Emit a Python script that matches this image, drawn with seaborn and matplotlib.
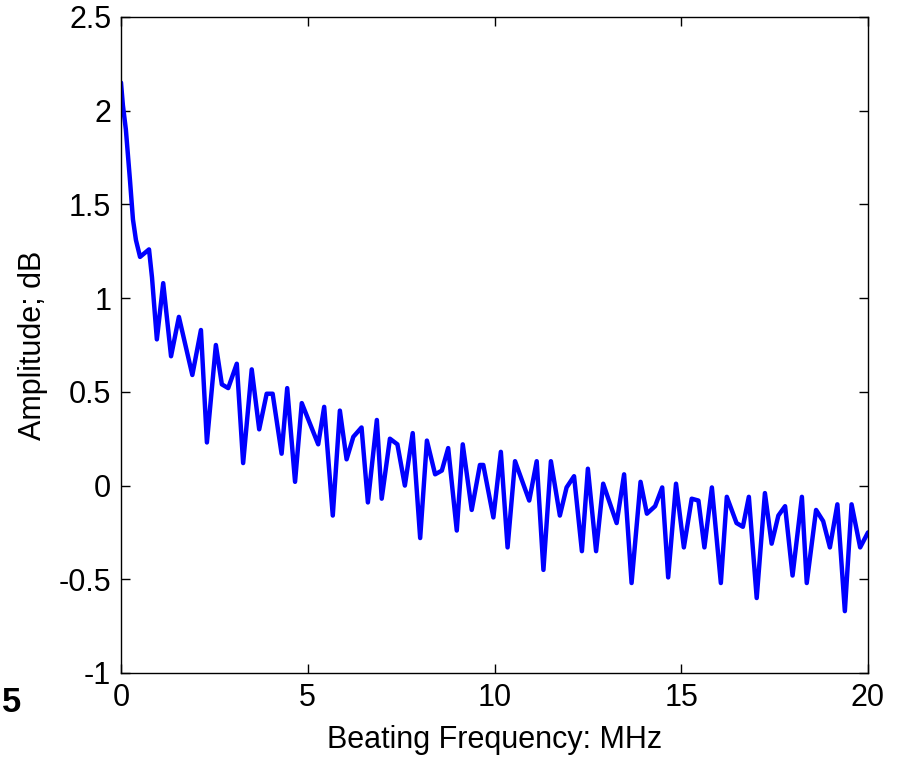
import numpy as np
import pandas as pd
import matplotlib
matplotlib.use("Agg")
import matplotlib.pyplot as plt
import seaborn as sns

# Beating frequency (MHz) and amplitude (dB)
freq_mhz = [0.00, 0.05, 0.13, 0.24, 0.32, 0.40, 0.51, 0.75, 0.83, 0.96,
            1.13, 1.34, 1.55, 1.91, 2.14, 2.30, 2.54, 2.70, 2.87, 3.10,
            3.27, 3.50, 3.70, 3.90, 4.06, 4.30, 4.45, 4.66, 4.84, 5.28,
            5.44, 5.67, 5.86, 6.04, 6.22, 6.44, 6.61, 6.85, 6.98, 7.20,
            7.40, 7.60, 7.81, 8.01, 8.19, 8.41, 8.59, 8.76, 8.99, 9.15,
            9.39, 9.61, 9.70, 9.97, 10.17, 10.35, 10.55, 10.93, 11.13, 11.31,
            11.51, 11.75, 11.93, 12.13, 12.34, 12.50, 12.72, 12.91, 13.27, 13.47,
            13.67, 13.91, 14.08, 14.30, 14.49, 14.65, 14.86, 15.07, 15.28, 15.46,
            15.62, 15.82, 16.06, 16.22, 16.48, 16.65, 16.81, 17.02, 17.24, 17.42,
            17.60, 17.78, 17.98, 18.23, 18.36, 18.61, 18.80, 18.98, 19.18, 19.38,
            19.56, 19.79, 20.00]
amp_db = [2.15, 2.03, 1.90, 1.63, 1.42, 1.31, 1.22, 1.26, 1.11, 0.78,
          1.08, 0.69, 0.90, 0.59, 0.83, 0.23, 0.75, 0.54, 0.52, 0.65,
          0.12, 0.62, 0.30, 0.49, 0.49, 0.17, 0.52, 0.02, 0.44, 0.22,
          0.42, -0.16, 0.40, 0.14, 0.26, 0.31, -0.09, 0.35, -0.07, 0.25,
          0.22, 0.00, 0.28, -0.28, 0.24, 0.06, 0.08, 0.20, -0.24, 0.22,
          -0.13, 0.11, 0.11, -0.17, 0.18, -0.33, 0.13, -0.08, 0.13, -0.45,
          0.13, -0.16, -0.01, 0.05, -0.35, 0.09, -0.35, 0.01, -0.20, 0.06,
          -0.52, 0.02, -0.15, -0.11, -0.01, -0.49, 0.01, -0.33, -0.07, -0.08,
          -0.33, -0.01, -0.52, -0.06, -0.20, -0.22, -0.06, -0.60, -0.04, -0.31,
          -0.16, -0.11, -0.48, -0.06, -0.52, -0.13, -0.19, -0.33, -0.10, -0.67,
          -0.10, -0.33, -0.25]

x_ticks = [0, 5, 10, 15, 20]
y_ticks = [-1, -0.5, 0, 0.5, 1, 1.5, 2, 2.5]
y_tick_labels = ["-1", "-0.5", "0", "0.5", "1", "1.5", "2", "2.5"]

sns.set_style("ticks")
plt.rcParams["font.family"] = ["Liberation Sans", "DejaVu Sans"]

df = pd.DataFrame({"freq": freq_mhz, "amp": amp_db})

fig = plt.figure(figsize=(9.01, 7.57), dpi=100)
ax = fig.add_axes([121 / 901, 1 - 673 / 757, (868 - 121) / 901, (673 - 17) / 757])

sns.lineplot(data=df, x="freq", y="amp", ax=ax, color="#0000FF",
             linewidth=3.2, estimator=None, sort=False)

ax.set_xlim(0, 20)
ax.set_ylim(-1, 2.5)
ax.set_xticks(x_ticks)
ax.set_xticklabels([str(t) for t in x_ticks])
ax.set_yticks(y_ticks)
ax.set_yticklabels(y_tick_labels)

for s in ax.spines.values():
    s.set_visible(True)
    s.set_color("black")
    s.set_linewidth(1.0)

ax.tick_params(axis="both", which="major", direction="in", length=6.5, width=1.0,
               top=True, right=True, labelsize=22, colors="black", pad=7)

ax.set_xlabel("Beating Frequency: MHz", fontsize=22, color="black", labelpad=9)
ax.set_ylabel("Amplitude; dB", fontsize=22, color="black", labelpad=8)

fig.text(0.002, 1 - 702 / 757, "5", fontsize=25, fontweight="bold", color="black",
         ha="left", va="center")

fig.savefig("out.png", dpi=100, facecolor="white")
